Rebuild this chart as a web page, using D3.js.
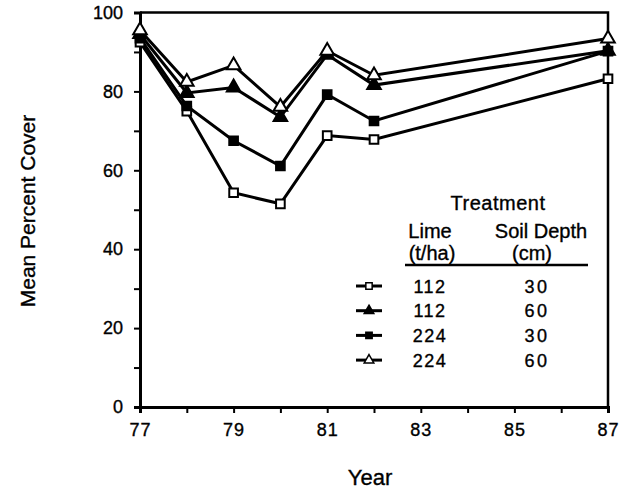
<!DOCTYPE html>
<html>
<head>
<meta charset="utf-8">
<script src="https://cdn.jsdelivr.net/npm/d3@7"></script>
<style>
  body { margin: 0; background: #fff; }
  text { font-family: "Liberation Sans", Arial, sans-serif; fill: #000; stroke: #000; stroke-width: 0.35px; }
</style>
</head>
<body>
<div id="chart"></div>
<script>
// Chart size
const width = 626,
      height = 490;

// Data
const years = [77, 78, 79, 80, 81, 82, 87];
const lime112soil30 = [92.5, 75, 54.3, 51.5, 68.8, 67.8, 83.2];
const lime112soil60 = [94.5, 79.6, 81, 73.5, 89.3, 81.6, 90.3];
const lime224soil30 = [93.5, 76.3, 67.5, 61.1, 79.2, 72.5, 90.2];
const lime224soil60 = [95.5, 82.4, 86.6, 76.1, 90.3, 84.1, 93.4];

const xTicks = [77, 78, 79, 80, 81, 82, 83, 84, 85, 86, 87];
const xLabels = [77, 79, 81, 83, 85, 87];
const yTicks = [0, 10, 20, 30, 40, 50, 60, 70, 80, 90, 100];
const yLabels = [0, 20, 40, 60, 80, 100];

// Legend rows: lime (t/ha), soil depth (cm)
const legendLime = ["112", "112", "224", "224"];
const legendDepth = ["30", "60", "30", "60"];

const series = [
  { values: lime112soil30, shape: d3.symbolSquare, open: true },
  { values: lime112soil60, shape: d3.symbolTriangle, open: false },
  { values: lime224soil30, shape: d3.symbolSquare, open: false },
  { values: lime224soil60, shape: d3.symbolTriangle, open: true }
];

const margin = { top: 12.5, right: 18, bottom: 83, left: 140 };

const svg = d3.select("#chart").append("svg")
    .attr("width", width)
    .attr("height", height);

const x = d3.scaleLinear()
    .domain([77, 87])
    .range([margin.left, width - margin.right]);

const y = d3.scaleLinear()
    .domain([0, 100])
    .range([height - margin.bottom, margin.top]);

// Frame (top and right sides)
svg.append("path")
   .attr("d", `M${x(77)},${y(100)}H${x(87)}V${y(0)}`)
   .attr("fill", "none")
   .attr("stroke", "#000")
   .attr("stroke-width", 2.5);

// X axis
const xAxis = svg.append("g")
    .attr("transform", `translate(0,${y(0)})`)
    .call(d3.axisBottom(x).tickValues(xTicks).tickSize(6)
          .tickFormat(d => xLabels.includes(d) ? d : ""));
xAxis.select(".domain").attr("stroke-width", 3);
xAxis.selectAll(".tick line").attr("stroke-width", 2);
xAxis.selectAll(".tick text")
     .attr("y", 16)
     .style("font-size", "18px")
     .style("letter-spacing", "1px");

// Y axis
const yAxis = svg.append("g")
    .attr("transform", `translate(${x(77)},0)`)
    .call(d3.axisLeft(y).tickValues(yTicks).tickSize(6)
          .tickFormat(d => yLabels.includes(d) ? d : ""));
yAxis.select(".domain").attr("stroke-width", 3);
yAxis.selectAll(".tick line").attr("stroke-width", 2);
yAxis.selectAll(".tick text")
     .attr("x", -17)
     .style("font-size", "18px");

// Axis titles
svg.append("text")
   .attr("x", 370)
   .attr("y", 485)
   .attr("text-anchor", "middle")
   .style("font-size", "22px")
   .text("Year");

svg.append("text")
   .attr("transform", "translate(35,211) rotate(-90)")
   .attr("text-anchor", "middle")
   .style("font-size", "21px")
   .text("Mean Percent Cover");

// Lines and markers
const line = d3.line()
    .x((d, i) => x(years[i]))
    .y(d => y(d));

series.forEach(s => {
  svg.append("path")
     .datum(s.values)
     .attr("d", line)
     .attr("fill", "none")
     .attr("stroke", "#000")
     .attr("stroke-width", 3);
});

series.forEach(s => {
  const sym = d3.symbol().type(s.shape).size(s.shape === d3.symbolSquare ? 75 : 80);
  svg.append("g").selectAll("path")
     .data(s.values)
     .enter().append("path")
     .attr("transform", (d, i) => `translate(${x(years[i])},${y(d)})`)
     .attr("d", sym)
     .attr("fill", s.open ? "#fff" : "#000")
     .attr("stroke", "#000")
     .attr("stroke-width", 2);
});

// Legend
const legend = svg.append("g").style("font-size", "20px");

legend.append("text").attr("x", 498).attr("y", 210)
      .attr("text-anchor", "middle").style("letter-spacing", "0.5px").text("Treatment");
legend.append("text").attr("x", 430).attr("y", 238)
      .attr("text-anchor", "middle").text("Lime");
legend.append("text").attr("x", 541).attr("y", 238)
      .attr("text-anchor", "middle").text("Soil Depth");
legend.append("text").attr("x", 432).attr("y", 260)
      .attr("text-anchor", "middle").text("(t/ha)");
legend.append("text").attr("x", 532).attr("y", 260)
      .attr("text-anchor", "middle").text("(cm)");
legend.append("line")
      .attr("x1", 405).attr("x2", 588)
      .attr("y1", 265).attr("y2", 265)
      .attr("stroke", "#000").attr("stroke-width", 2.5);

const rowY = i => 286 + i * 24.7;

series.forEach((s, i) => {
  legend.append("line")
        .attr("x1", 356).attr("x2", 382)
        .attr("y1", rowY(i)).attr("y2", rowY(i))
        .attr("stroke", "#000").attr("stroke-width", 3);
  legend.append("path")
        .attr("transform", `translate(369,${rowY(i)})`)
        .attr("d", d3.symbol().type(s.shape).size(40))
        .attr("fill", s.open ? "#fff" : "#000")
        .attr("stroke", "#000")
        .attr("stroke-width", 1.5);
  legend.append("text").attr("x", 430).attr("y", rowY(i) + 6.5)
        .attr("text-anchor", "middle")
        .style("font-size", "18px").style("letter-spacing", "1.5px")
        .text(legendLime[i]);
  legend.append("text").attr("x", 537).attr("y", rowY(i) + 6.5)
        .attr("text-anchor", "middle")
        .style("font-size", "18px").style("letter-spacing", "2.5px")
        .text(legendDepth[i]);
});
</script>
</body>
</html>
